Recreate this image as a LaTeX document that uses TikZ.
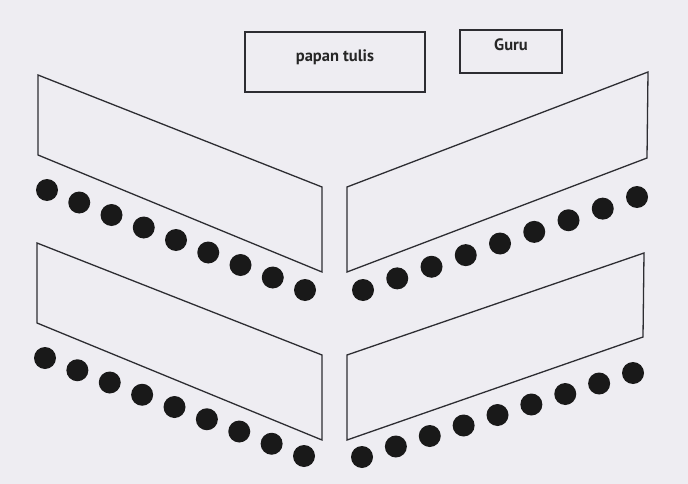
\documentclass[tikz,border=0pt]{standalone}
\usepackage{fontspec}
\setsansfont{PT Sans}
\usetikzlibrary{calc}
\definecolor{paper}{RGB}{238,237,242}
\definecolor{ink}{RGB}{45,45,50}
\tikzset{
	bord/.style={draw=ink,line width=1.3pt},
	meja/.style={draw=ink,line width=1.3pt,line join=miter},
	kursi/.style={fill=black!90},
	tulisan/.style={font=\sffamily\bfseries\fontsize{16.5}{19}\selectfont,text=black!85}
}
\begin{document}
\begin{tikzpicture}[x=1pt,y=-1pt]
	\fill[paper] (0,0) rectangle (688,484);
	\useasboundingbox (0,0) rectangle (688,484);
	% papan tulis dan guru
	\node[bord,minimum width=180pt,minimum height=60pt] (papan) at (335,62) {};
	\node[tulisan] (papanteks) at ([yshift=5pt]papan.center) {papan tulis};
	\node[bord,minimum width=102pt,minimum height=43pt] (guru) at (511,51.5) {};
	\node[tulisan] (guruteks) at ([yshift=7pt]guru.center) {Guru};
	% meja
	\draw[meja] (38,75)--(322,187)--(322,272)--(38,155)--cycle;
	\draw[meja] (347,187)--(648,72)--(647,158)--(347,272)--cycle;
	\draw[meja] (37,243)--(322,355)--(322,440)--(37,323)--cycle;
	\draw[meja] (347,355)--(644,253)--(643,337)--(347,440)--cycle;
	% kursi siswa
	\foreach \ax/\ay/\bx/\by in {47/190/305/290, 363/290/637/197, 45/358/304/456, 362/457/633/373}{
		\foreach \i in {0,...,8}{
			\fill[kursi] ($(\ax,\ay)!\i/8!(\bx,\by)$) circle (11pt);
		}
	}
\end{tikzpicture}
\end{document}
